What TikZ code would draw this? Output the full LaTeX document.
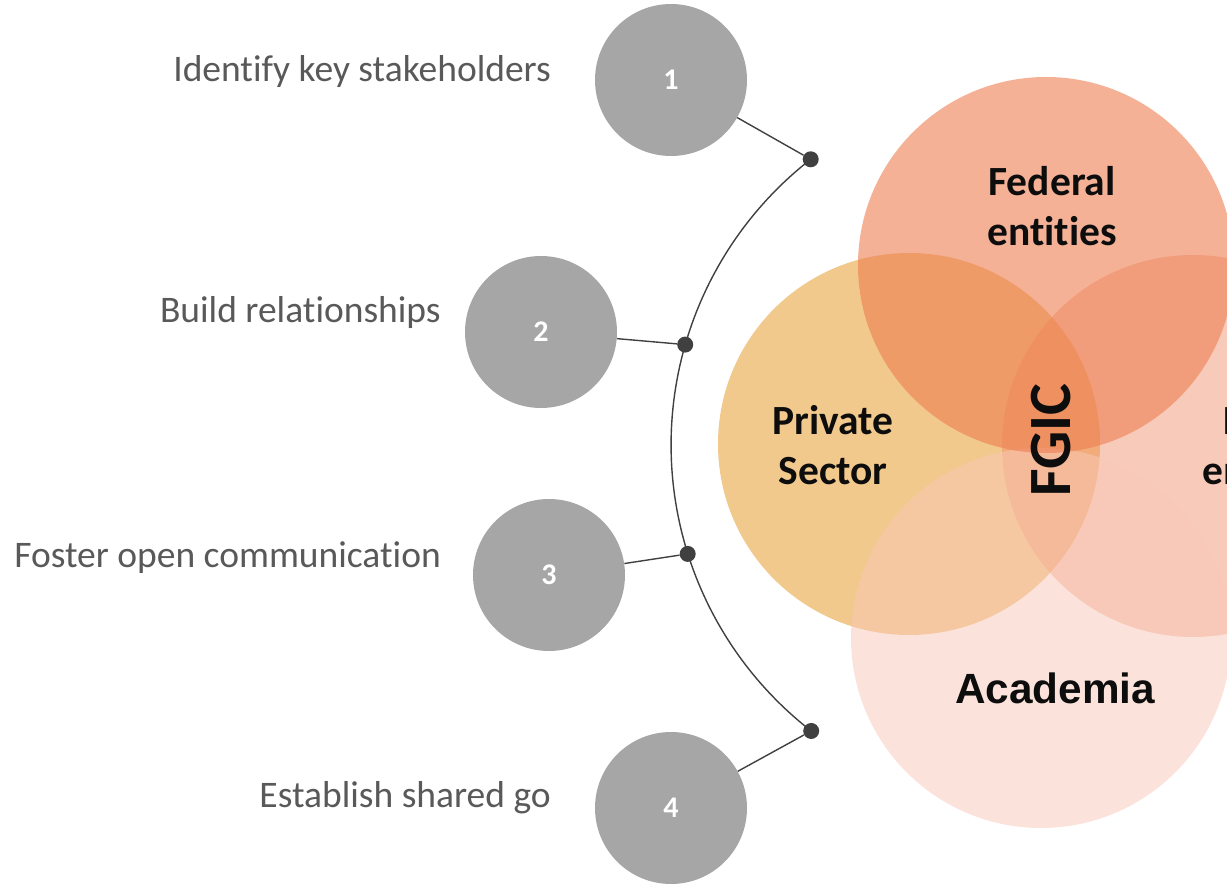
\documentclass[tikz,border=0pt]{standalone}
\usepackage{fontspec}
\setmainfont{Carlito}[Ligatures={NoCommon,NoContextual}]
\newfontfamily\arialfont{Liberation Sans}
\definecolor{stepgray}{HTML}{A6A6A6}
\definecolor{dotgray}{HTML}{404040}
\definecolor{labelgray}{HTML}{595959}
\definecolor{fedC}{HTML}{ED7D50}
\definecolor{privC}{HTML}{E9A53F}
\definecolor{locC}{HTML}{F08A64}
\definecolor{acadC}{HTML}{F8C8B8}
\definecolor{txtblack}{HTML}{0D0D0D}
\tikzset{
  stepcircle/.style={circle, fill=stepgray, minimum size=152pt, inner sep=0pt,
    text=white, font=\bfseries\fontsize{30}{36}\selectfont},
  stepdot/.style={circle, fill=dotgray, minimum size=16pt, inner sep=0pt},
  conn/.style={draw=dotgray, line width=1.4pt},
  steplabel/.style={anchor=base east, inner sep=0pt, text=labelgray,
    font=\fontsize{37.5}{44}\selectfont},
  venntext/.style={align=center, inner sep=0pt, text=txtblack,
    font=\bfseries\fontsize{41.5}{50}\selectfont},
}
\begin{document}
\begin{tikzpicture}[x=1pt,y=-1pt]
\useasboundingbox (0,0) rectangle (1227,885);
\clip (0,0) rectangle (1227,885);
% Venn circles
\fill[privC, fill opacity=0.6] (909,444) circle[radius=191];
\fill[locC, fill opacity=0.45] (1193,446) circle[radius=191];
\fill[acadC, fill opacity=0.5] (1041,638) circle[radius=190];
\fill[fedC, fill opacity=0.6] (1046,265) circle[radius=188];
% Venn texts
\node[venntext] (fed) at (1052,205.7) {Federal\\entities};
\node[venntext] (priv) at (833,444.7) {Private\\Sector};
\node[venntext] (loc) at (1267,444.7) {Local\\entities};
\node[venntext, font=\bfseries\fontsize{60}{70}\selectfont, rotate=90] (fgic) at (1051,440) {FGIC};
\node[inner sep=0pt, text=txtblack, font=\arialfont\bfseries\fontsize{42.3}{50}\selectfont] (acad) at (1055,688) {Academia};
% step circles
\node[stepcircle] (c1) at (671,80) {1};
\node[stepcircle] (c2) at (541,332) {2};
\node[stepcircle] (c3) at (549,575) {3};
\node[stepcircle] (c4) at (671,808) {4};
% connectors
\coordinate (d1c) at (810.7,159.3);
\draw[conn] (d1c) arc[start angle=127.9, end angle=232.2, radius=362pt] coordinate (d4c);
\node[stepdot] (d1) at (d1c) {};
\node[stepdot] (d2) at (685.2,344.6) {};
\node[stepdot] (d3) at (687.7,553.9) {};
\node[stepdot] (d4) at (d4c) {};
\draw[conn] (c1) -- (d1);
\draw[conn] (c2) -- (d2);
\draw[conn] (c3) -- (d3);
\draw[conn] (c4) -- (d4);
% labels
\node[steplabel] (l1) at (551,82) {Identify key stakeholders};
\node[steplabel] (l2) at (441,323) {Build relationships};
\node[steplabel] (l3) at (441,567) {Foster open communication};
\node[steplabel] (l4) at (551,807) {Establish shared go};
\end{tikzpicture}
\end{document}
